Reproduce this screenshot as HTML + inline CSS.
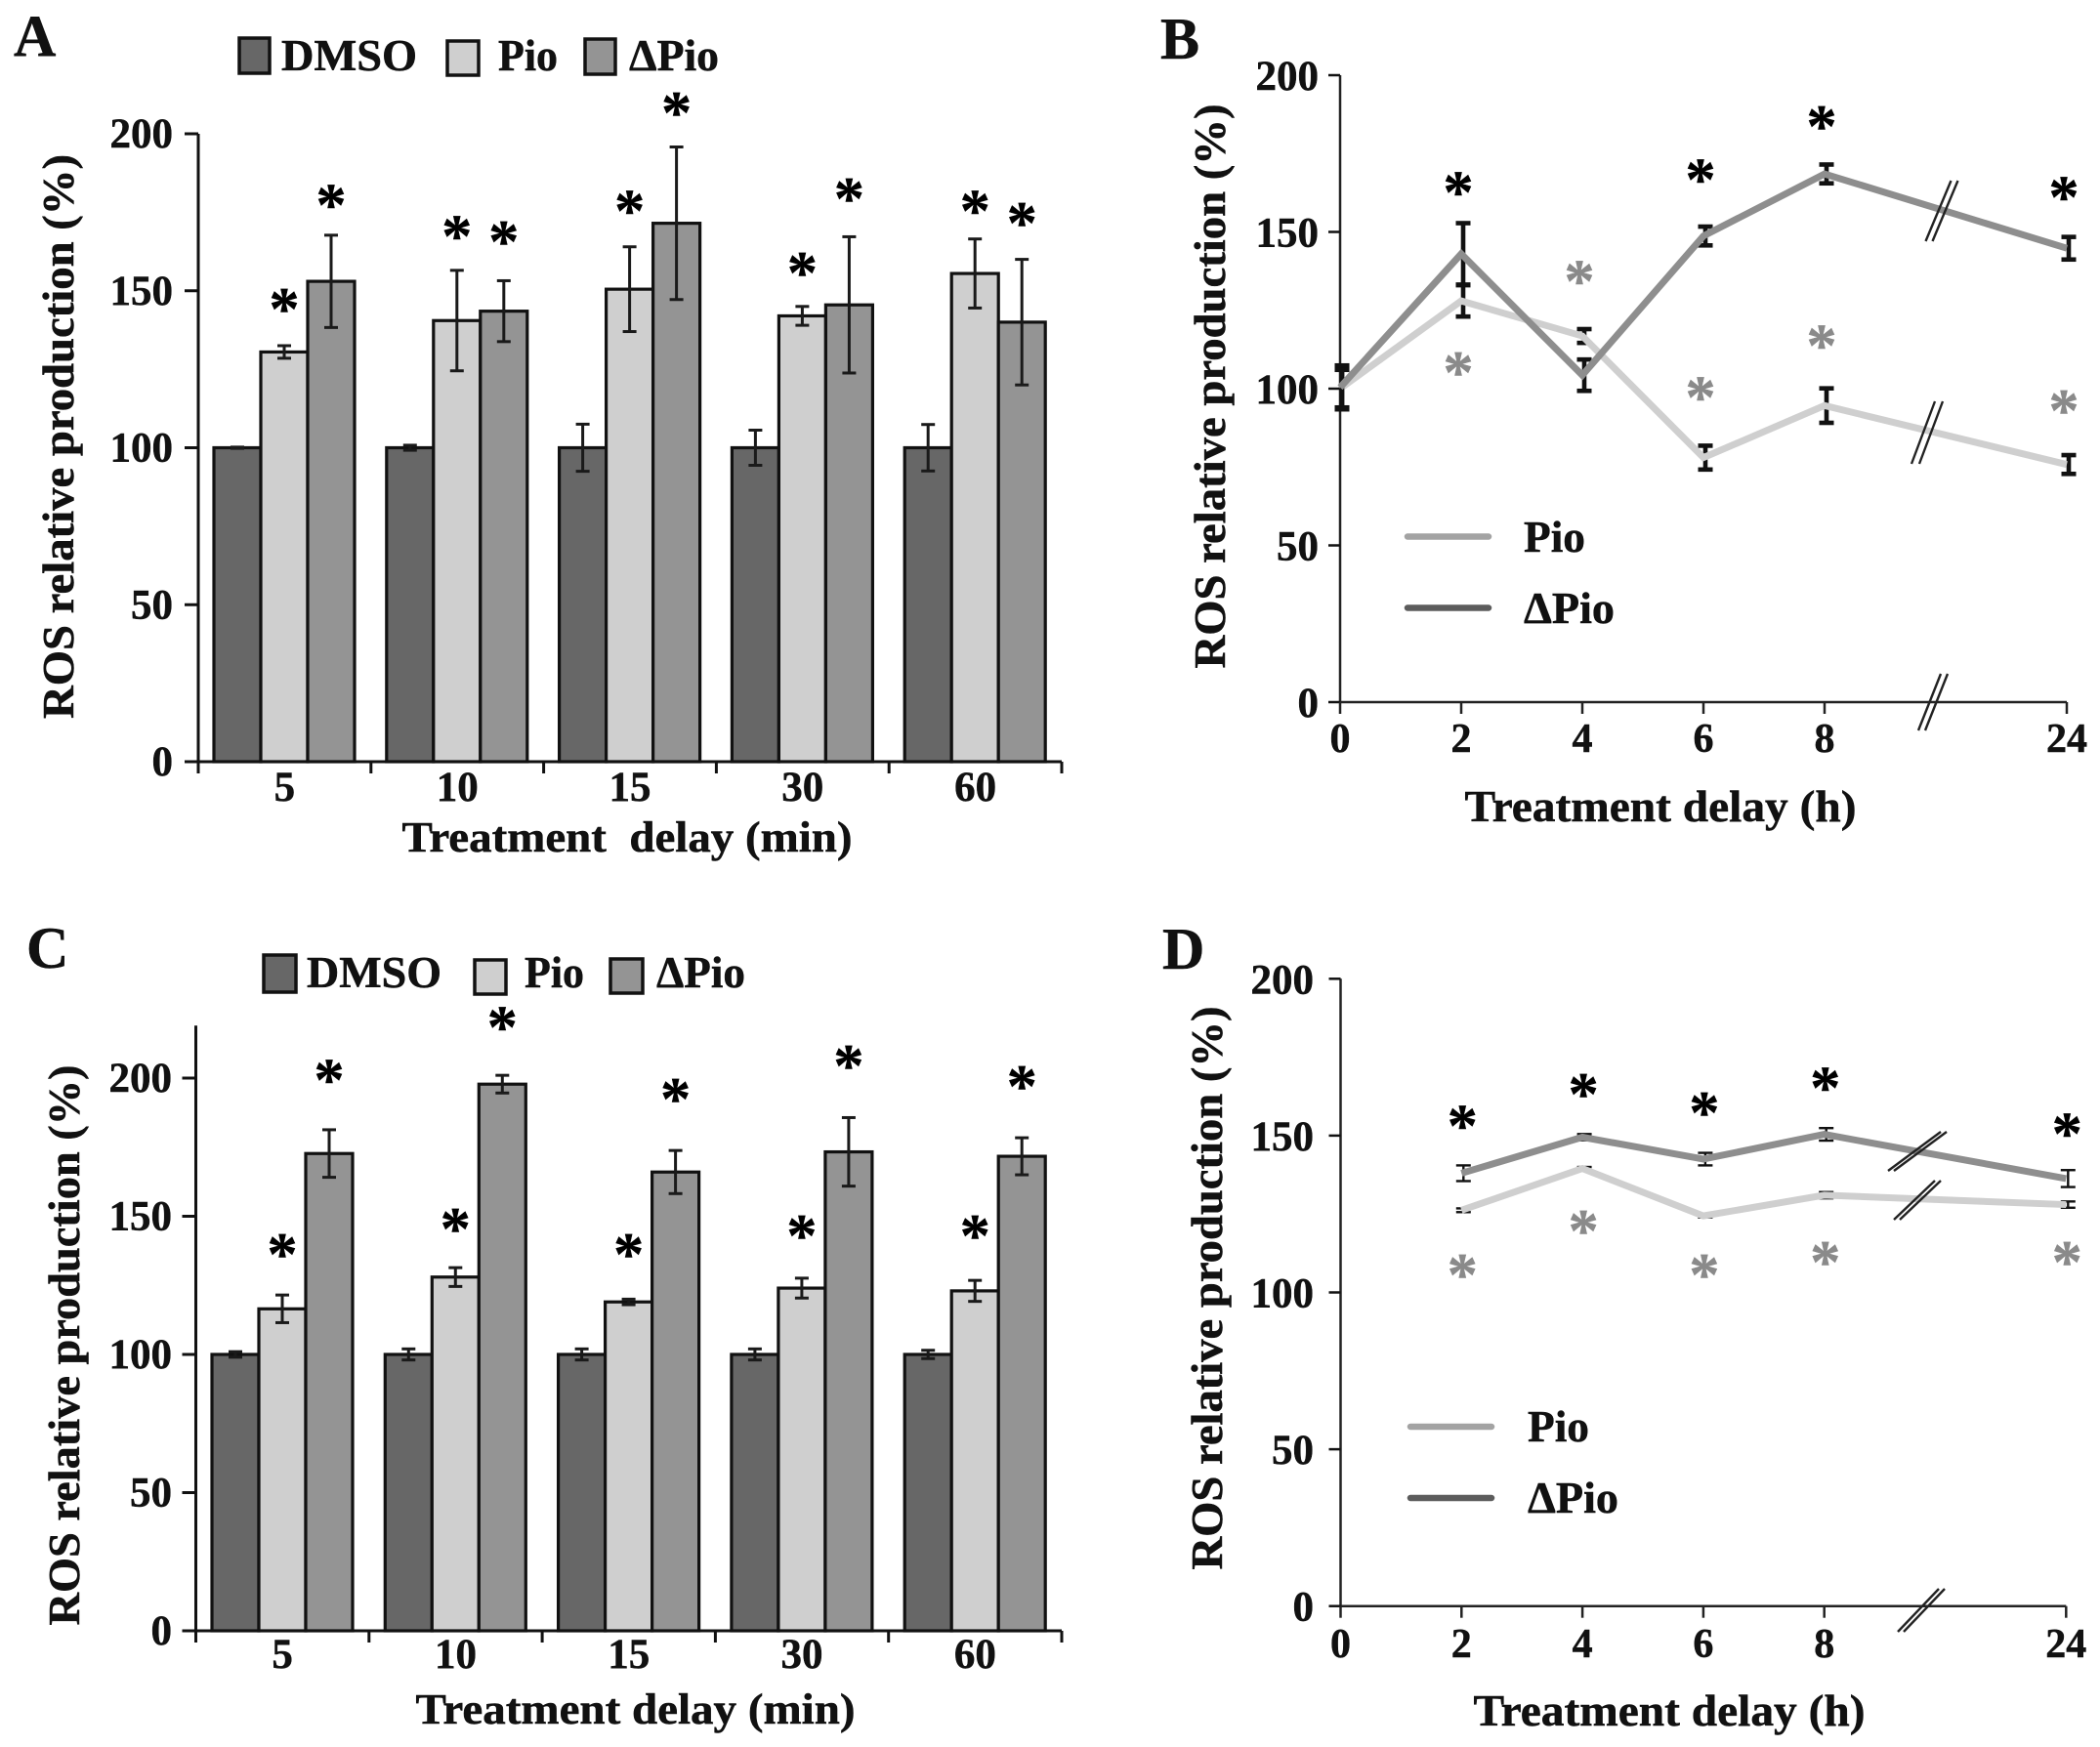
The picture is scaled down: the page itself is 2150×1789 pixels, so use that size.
<!DOCTYPE html>
<html>
<head>
<meta charset="utf-8">
<title>ROS relative production</title>
<style>
html,body{margin:0;padding:0;background:#fff;}
svg{display:block;}
text{font-family:"Liberation Serif",serif;font-weight:bold;fill:#111;stroke:#111;stroke-width:.5px;white-space:pre;}
</style>
</head>
<body>
<svg id="fig" xmlns="http://www.w3.org/2000/svg" width="2150" height="1789" viewBox="0 0 2150 1789">
<rect x="0" y="0" width="2150" height="1789" fill="#fff"/>

<!-- Panel A static -->
<g id="panelA">
<text x="14" y="57" font-size="60">A</text>
<g>
<rect x="245" y="39" width="31" height="36" fill="#676767" stroke="#111" stroke-width="3.5"/>
<text x="288" y="72" font-size="45" textLength="139" lengthAdjust="spacingAndGlyphs">DMSO</text>
<rect x="458" y="42" width="32" height="35" fill="#cfcfcf" stroke="#111" stroke-width="3.5"/>
<text x="510" y="72" font-size="45" textLength="61" lengthAdjust="spacingAndGlyphs">Pio</text>
<rect x="599" y="40" width="31" height="36" fill="#949494" stroke="#111" stroke-width="3.5"/>
<text x="644" y="72" font-size="45" textLength="92" lengthAdjust="spacingAndGlyphs">ΔPio</text>
</g>
<text transform="translate(75,447) rotate(-90)" text-anchor="middle" font-size="46" textLength="578" lengthAdjust="spacingAndGlyphs">ROS relative production (%)</text>
<text x="642" y="872" text-anchor="middle" font-size="44" textLength="461" lengthAdjust="spacingAndGlyphs">Treatment  delay (min)</text>
</g>

<!-- Panel B static -->
<g id="panelB">
<text x="1188" y="60" font-size="60">B</text>
<text transform="translate(1254,395.5) rotate(-90)" text-anchor="middle" font-size="46" textLength="578" lengthAdjust="spacingAndGlyphs">ROS relative production (%)</text>
<text x="1700" y="841" text-anchor="middle" font-size="46" textLength="401" lengthAdjust="spacingAndGlyphs">Treatment delay (h)</text>
<g>
<line x1="1441" x2="1524" y1="549.5" y2="549.5" stroke="#a3a3a3" stroke-width="6.5" stroke-linecap="round"/>
<text x="1560" y="565" font-size="45" textLength="63" lengthAdjust="spacingAndGlyphs">Pio</text>
<line x1="1441" x2="1524" y1="622.5" y2="622.5" stroke="#5c5c5c" stroke-width="6.5" stroke-linecap="round"/>
<text x="1560" y="638" font-size="45" textLength="93" lengthAdjust="spacingAndGlyphs">ΔPio</text>
</g>
</g>

<!-- Panel C static -->
<g id="panelC">
<text x="27" y="991" font-size="60">C</text>
<g>
<rect x="270" y="978" width="33" height="38" fill="#676767" stroke="#111" stroke-width="3.5"/>
<text x="314" y="1011" font-size="45" textLength="138" lengthAdjust="spacingAndGlyphs">DMSO</text>
<rect x="486" y="983" width="32" height="35" fill="#cfcfcf" stroke="#111" stroke-width="3.5"/>
<text x="537" y="1011" font-size="45" textLength="61" lengthAdjust="spacingAndGlyphs">Pio</text>
<rect x="625" y="982" width="33" height="35" fill="#949494" stroke="#111" stroke-width="3.5"/>
<text x="672" y="1011" font-size="45" textLength="91" lengthAdjust="spacingAndGlyphs">ΔPio</text>
</g>
<text transform="translate(81,1377.5) rotate(-90)" text-anchor="middle" font-size="46" textLength="574" lengthAdjust="spacingAndGlyphs">ROS relative production (%)</text>
<text x="650.5" y="1765" text-anchor="middle" font-size="44" textLength="450" lengthAdjust="spacingAndGlyphs">Treatment delay (min)</text>
</g>

<!-- Panel D static -->
<g id="panelD">
<text x="1190" y="992" font-size="60">D</text>
<text transform="translate(1251,1319) rotate(-90)" text-anchor="middle" font-size="46" textLength="577" lengthAdjust="spacingAndGlyphs">ROS relative production (%)</text>
<text x="1709" y="1767" text-anchor="middle" font-size="46" textLength="401" lengthAdjust="spacingAndGlyphs">Treatment delay (h)</text>
<g>
<line x1="1444" x2="1527" y1="1461" y2="1461" stroke="#a3a3a3" stroke-width="6.5" stroke-linecap="round"/>
<text x="1564" y="1476" font-size="45" textLength="63" lengthAdjust="spacingAndGlyphs">Pio</text>
<line x1="1444" x2="1527" y1="1534" y2="1534" stroke="#5c5c5c" stroke-width="6.5" stroke-linecap="round"/>
<text x="1564" y="1549" font-size="45" textLength="93" lengthAdjust="spacingAndGlyphs">ΔPio</text>
</g>
</g>
</svg>

<script>
// ---------- Shared axis data ----------
var yTicksAB = [0, 50, 100, 150, 200];
var yTicksC = [0, 50, 100, 150, 200];
var yTicksD = [0, 50, 100, 150, 200];
var minuteCategories = ['5', '10', '15', '30', '60'];
var hourCategories = [0, 2, 4, 6, 8, 24];

// ---------- Panel A ----------
var aDmso = [100, 100, 100, 100, 100];
var aPio = [130.5, 140.5, 150.5, 142, 155.5];
var aDelta = [153, 143.5, 171.5, 145.5, 140];
var aDmsoErr = [0.2, 0.8, 7.5, 5.6, 7.4];
var aPioErr = [2, 16, 13.5, 3, 11];
var aDeltaErr = [14.7, 9.7, 24.3, 21.7, 20];
var aPioStar = [146.5, 169.7, 177.8, 158, 177.8];
var aDeltaStar = [179.6, 168, 209, 181.7, 173.9];

// ---------- Panel B ----------
var bPio = [100, 128, 116.8, 78, 94.6, 75.8];
var bDelta = [100.4, 143, 104.3, 148.7, 168.5, 144.8];
var bPioErr = [6, 5, 2.2, 3.8, 5.5, 3];
var bDeltaErr = [7, 9.8, 5, 3, 3, 3.6];
var bBlackStarHours = [2, 6, 8, 24];
var bBlackStar = [165, 169, 186, 163.4];
var bGreyStarHours = [2, 4, 6, 8, 24];
var bGreyStar = [107.5, 136.6, 99.5, 116, 95.3];

// ---------- Panel C ----------
var cDmso = [100, 100, 100, 100, 100];
var cPio = [116.5, 128, 119, 124, 123];
var cDelta = [172.7, 197.8, 166, 173.3, 171.7];
var cDmsoErr = [1, 2, 2, 2, 1.5];
var cPioErr = [5, 3.4, 1, 3.6, 3.8];
var cDeltaErr = [8.6, 3.2, 7.8, 12.4, 6.7];
var cPioStar = [138.8, 148, 138.8, 145.6, 145.6];
var cDeltaStar = [202, 221, 195, 207, 199.6];

// ---------- Panel D ----------
var dHours = [2, 4, 6, 8, 24];
var dPio = [126.2, 139.5, 124.4, 131, 128];
var dDelta = [138, 149.5, 142.5, 150.4, 136.3];
var dPioErr = [0.6, 0.5, 0.5, 1, 1];
var dDeltaErr = [2.5, 1, 2, 2, 2.7];
var dBlackStar = [155.4, 165.5, 159.6, 167.6, 153];
var dGreyStar = [108, 122, 108, 112, 112];

var SVGNS = 'http://www.w3.org/2000/svg';

function shape(parent, tag, name) {
  var el = document.createElementNS(SVGNS, tag);
  
  
  parent.appendChild(el);
  return el;
}
function line(parent, name, x1, y1, x2, y2, color, width, cap) {
  var el = shape(parent, 'line', name);
  el.setAttribute('x1', x1);
  el.setAttribute('y1', y1);
  el.setAttribute('x2', x2);
  el.setAttribute('y2', y2);
  el.setAttribute('stroke', color);
  el.setAttribute('stroke-width', width);
  if (cap) el.setAttribute('stroke-linecap', cap);
  return el;
}
function label(parent, name, x, y, size, anchor, str, fill) {
  var el = shape(parent, 'text', name);
  el.setAttribute('x', x);
  el.setAttribute('y', y);
  el.setAttribute('font-size', size);
  el.setAttribute('text-anchor', anchor);
  if (fill) {
    el.style.fill = fill;
    el.style.stroke = fill;
  }
  el.textContent = str;
  return el;
}
function star(parent, name, x, y, color) {
  // offset from the glyph centre to its baseline for a 62px asterisk
  return label(parent, name, x, y + 28, 62, 'middle', '*', color);
}
function errorBar(parent, name, x, yScale, v, e, color, width, capHalf) {
  var g = shape(parent, 'g', name);
  line(g, name + '-stem', x, yScale(v + e), x, yScale(v - e), color, width);
  line(g, name + '-cap-top', x - capHalf, yScale(v + e), x + capHalf, yScale(v + e), color, width);
  line(g, name + '-cap-bottom', x - capHalf, yScale(v - e), x + capHalf, yScale(v - e), color, width);
}
function linearY(y0, perUnit) {
  return function (v) { return y0 - v * perUnit; };
}

function yAxisTicks(parent, prefix, xAxis, scale, ticks, labelRight, baseShift, tickLen, width, size) {
  ticks.forEach(function (t) {
    line(parent, prefix + '-y-tick-' + t, xAxis - tickLen, scale(t), xAxis, scale(t), '#111', width);
    label(parent, prefix + '-y-tick-label-' + t, labelRight, scale(t) + baseShift, size, 'end', String(t));
  });
}

function barPanel(opts) {
  var parent = document.getElementById(opts.id);
  var y = linearY(opts.y0, opts.perUnit);
  var x = function (cat, slot) { return opts.x0 + cat * opts.step + opts.offset + slot * opts.barW; };
  var seriesFill = ['#676767', '#cfcfcf', '#949494'];
  var seriesName = ['dmso', 'pio', 'delta-pio'];
  var axes = shape(parent, 'g', opts.prefix + '-axes');
  line(axes, opts.prefix + '-y-axis', opts.x0, y(opts.yTop), opts.x0, opts.y0 + 1.5, '#111', 3);
  line(axes, opts.prefix + '-x-axis', opts.x0, opts.y0, opts.x0 + 5 * opts.step, opts.y0, '#111', 3);
  yAxisTicks(axes, opts.prefix, opts.x0, y, opts.yTicks, opts.labelRight, 14, 14, 3, 43);
  for (var k = 0; k <= 5; k++) {
    line(axes, opts.prefix + '-x-tick-' + k, opts.x0 + k * opts.step, opts.y0, opts.x0 + k * opts.step, opts.y0 + 12, '#111', 3);
  }
  minuteCategories.forEach(function (c, i) {
    label(axes, opts.prefix + '-x-tick-label-' + c, opts.x0 + (i + 0.5) * opts.step, opts.xLabelY, 43, 'middle', c);
  });
  opts.values.forEach(function (series, s) {
    series.forEach(function (v, i) {
      var r = shape(parent, 'rect', opts.prefix + '-bar-' + seriesName[s] + '-' + minuteCategories[i]);
      r.setAttribute('x', x(i, s));
      r.setAttribute('y', y(v));
      r.setAttribute('width', opts.barW);
      r.setAttribute('height', y(0) - y(v));
      r.setAttribute('fill', seriesFill[s]);
      r.setAttribute('stroke', '#111');
      r.setAttribute('stroke-width', 3.2);
    });
  });
  opts.errors.forEach(function (series, s) {
    series.forEach(function (e, i) {
      errorBar(parent, opts.prefix + '-error-' + seriesName[s] + '-' + minuteCategories[i],
        x(i, s) + opts.barW / 2, y, opts.values[s][i], e, '#1a1a1a', 3, 7);
    });
  });
  opts.stars.forEach(function (series, s) {
    series.forEach(function (v, i) {
      star(parent, opts.prefix + '-asterisk-' + seriesName[s + 1] + '-' + minuteCategories[i],
        x(i, s + 1) + opts.barW / 2, y(v), '#000');
    });
  });
}

function linePanel(opts) {
  var parent = document.getElementById(opts.id);
  var y = linearY(opts.y0, opts.perUnit);
  var slot = function (h) { return h <= 8 ? h / 2 : 6; };
  var x = function (h) { return opts.x0 + slot(h) * opts.step; };
  var axes = shape(parent, 'g', opts.prefix + '-axes');
  line(axes, opts.prefix + '-y-axis', opts.x0, y(200), opts.x0, opts.y0 + 1, '#222', 2.5);
  line(axes, opts.prefix + '-x-axis', opts.x0, opts.y0, x(24), opts.y0, '#222', 2.5);
  yAxisTicks(axes, opts.prefix, opts.x0, y, opts.yTicks, opts.labelRight, 15, 12, 2.5, 43);
  hourCategories.forEach(function (h) {
    line(axes, opts.prefix + '-x-tick-' + h, x(h), opts.y0, x(h), opts.y0 + 12, '#222', 2.5);
    label(axes, opts.prefix + '-x-tick-label-' + h, x(h), opts.xLabelY, 42, 'middle', String(h));
  });
  function drawSeries(name, values, errs, color) {
    var g = shape(parent, 'g', opts.prefix + '-series-' + name);
    var pl = shape(g, 'polyline', opts.prefix + '-line-' + name);
    pl.setAttribute('points', values.map(function (v, i) {
      return x(opts.hours[i]) + ',' + y(v);
    }).join(' '));
    pl.setAttribute('fill', 'none');
    pl.setAttribute('stroke', color);
    pl.setAttribute('stroke-width', 7);
    values.forEach(function (v, i) {
      errorBar(g, opts.prefix + '-error-' + name + '-' + opts.hours[i],
        x(opts.hours[i]) + opts.errDx, y, v, errs[i], '#111', opts.errW, 7.5);
    });
    pl.parentNode.appendChild(pl);
  }
  drawSeries('pio', opts.pio, opts.pioErr, '#cfcfcf');
  drawSeries('delta-pio', opts.delta, opts.deltaErr, '#8e8e8e');
  opts.blackHours.forEach(function (h, i) {
    star(parent, opts.prefix + '-asterisk-delta-pio-' + h, x(h) + opts.starDx, y(opts.black[i]), '#000');
  });
  opts.greyHours.forEach(function (h, i) {
    star(parent, opts.prefix + '-asterisk-pio-' + h, x(h) + opts.starDx, y(opts.grey[i]), '#8a8a8a');
  });
  opts.breaks.forEach(function (b, i) {
    var g = shape(parent, 'g', opts.prefix + '-axis-break-' + i);
    [-1, 1].forEach(function (sgn) {
      line(g, opts.prefix + '-axis-break-stroke', b.cx + sgn * b.gap - b.dx / 2, b.cy + b.dy / 2,
        b.cx + sgn * b.gap + b.dx / 2, b.cy - b.dy / 2, '#222', 2.4);
    });
  });
}

barPanel({
  id: 'panelA', prefix: 'panel-a', x0: 203, y0: 780, perUnit: 3.215, step: 176.8,
  offset: 16, barW: 48, yTop: 200, yTicks: yTicksAB, labelRight: 177, xLabelY: 820,
  values: [aDmso, aPio, aDelta], errors: [aDmsoErr, aPioErr, aDeltaErr], stars: [aPioStar, aDeltaStar]
});
barPanel({
  id: 'panelC', prefix: 'panel-c', x0: 200.5, y0: 1670, perUnit: 2.83, step: 177.3,
  offset: 16.5, barW: 48, yTop: 219, yTicks: yTicksC, labelRight: 176, xLabelY: 1708,
  values: [cDmso, cPio, cDelta], errors: [cDmsoErr, cPioErr, cDeltaErr], stars: [cPioStar, cDeltaStar]
});
linePanel({
  id: 'panelB', prefix: 'panel-b', x0: 1372, y0: 719, perUnit: 3.21, step: 124,
  yTicks: yTicksAB, labelRight: 1350, xLabelY: 770, hours: hourCategories,
  pio: bPio, delta: bDelta, pioErr: bPioErr, deltaErr: bDeltaErr,
  blackHours: bBlackStarHours, black: bBlackStar, greyHours: bGreyStarHours, grey: bGreyStar,
  errDx: 2, errW: 4.6, starDx: -3,
  breaks: [
    {cx: 1988, cy: 216, dx: 26, dy: 62, gap: 3.5},
    {cx: 1973, cy: 443, dx: 24, dy: 64, gap: 4},
    {cx: 1979, cy: 719, dx: 23, dy: 58, gap: 3.5}
  ]
});
linePanel({
  id: 'panelD', prefix: 'panel-d', x0: 1372.5, y0: 1644.7, perUnit: 3.212, step: 123.8,
  yTicks: yTicksD, labelRight: 1345, xLabelY: 1697, hours: dHours,
  pio: dPio, delta: dDelta, pioErr: dPioErr, deltaErr: dDeltaErr,
  blackHours: dHours, black: dBlackStar, greyHours: dHours, grey: dGreyStar,
  errDx: 2, errW: 2.4, starDx: 1,
  breaks: [
    {cx: 1963, cy: 1179, dx: 54, dy: 40, gap: 3},
    {cx: 1963, cy: 1229, dx: 42, dy: 40, gap: 3},
    {cx: 1967, cy: 1649, dx: 42, dy: 44, gap: 3}
  ]
});
</script>
</body>
</html>
